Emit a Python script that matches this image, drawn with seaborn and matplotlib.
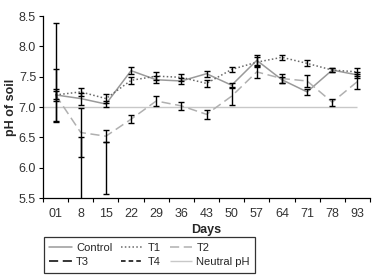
import numpy as np
import pandas as pd
import matplotlib
matplotlib.use('Agg')
import matplotlib.pyplot as plt
import seaborn as sns

sns.set_style('ticks')
plt.rcParams['font.family'] = ['Liberation Sans Narrow', 'Liberation Sans', 'DejaVu Sans']

# Soil pH data
days = ['01', '8', '15', '22', '29', '36', '43', '50', '57', '64', '71', '78', '93']
control = [7.20, 7.14, 7.05, 7.60, 7.45, 7.43, 7.55, 7.36, 7.77, 7.45, 7.25, 7.61, 7.53]
t1 = [7.20, 7.25, 7.14, 7.44, 7.51, 7.49, 7.39, 7.62, 7.74, 7.82, 7.72, 7.61, 7.58]
t2 = [7.20, 6.58, 6.52, 6.80, 7.10, 7.02, 6.88, 7.18, 7.58, 7.47, 7.43, 7.08, 7.42]
t3 = [7.57, np.nan, 6.00, np.nan, np.nan, np.nan, np.nan, np.nan, np.nan, np.nan, np.nan, np.nan, np.nan]
t4 = [np.nan, 5.40, np.nan, np.nan, np.nan, np.nan, np.nan, np.nan, np.nan, np.nan, np.nan, np.nan, np.nan]
neutral_ph = 7.0

# standard errors
control_err = [0.43, 0.10, 0.05, 0.06, 0.06, 0.05, 0.05, 0.04, 0.08, 0.05, 0.05, 0.03, 0.05]
t1_err = [0.06, 0.06, 0.07, 0.06, 0.06, 0.06, 0.06, 0.04, 0.08, 0.04, 0.05, 0.03, 0.06]
t2_err = [0.10, 0.41, 0.10, 0.07, 0.08, 0.07, 0.07, 0.15, 0.10, 0.07, 0.10, 0.06, 0.12]
t3_err = [0.81, np.nan, 0.43, np.nan, np.nan, np.nan, np.nan, np.nan, np.nan, np.nan, np.nan, np.nan, np.nan]
t4_err = [np.nan, 1.10, np.nan, np.nan, np.nan, np.nan, np.nan, np.nan, np.nan, np.nan, np.nan, np.nan, np.nan]

pos = np.arange(len(days))
df = pd.DataFrame({'pos': pos, 'Control': control, 'T1': t1, 'T2': t2})

fig = plt.figure(figsize=(3.81, 2.77), dpi=100)
ax = fig.add_axes([0.113, 0.285, 0.858, 0.657])

# neutral line first (underneath)
ax.hlines(neutral_ph, -0.5, pos[-1], color='#c8c8c8', lw=1.0, label='Neutral pH', zorder=1)

styles = {
    'Control': dict(color='#9a9a9a', linestyle='-'),
    'T1': dict(color='#6a6a6a', linestyle=(0, (1, 1.5))),
    'T2': dict(color='#b0b0b0', linestyle=(0, (6, 3))),
}
errs = {'Control': control_err, 'T1': t1_err, 'T2': t2_err}
for name, st in styles.items():
    sns.lineplot(data=df, x='pos', y=name, ax=ax, lw=1.1, label=name, zorder=2, **st)
    ax.errorbar(pos, df[name], yerr=errs[name], fmt='none', ecolor='black',
                elinewidth=1.0, capsize=2.5, capthick=1.0, zorder=3)

ax.plot(pos, t3, color='black', lw=1.1, linestyle=(0, (6, 3)), label='T3')
ax.errorbar(pos, t3, yerr=t3_err, fmt='none', ecolor='black', elinewidth=1.0,
            capsize=2.5, capthick=1.0, zorder=3)
ax.plot(pos, t4, color='black', lw=1.1, linestyle=(0, (3, 2)), label='T4')
ax.errorbar(pos, t4, yerr=t4_err, fmt='none', ecolor='black', elinewidth=1.0,
            capsize=2.5, capthick=1.0, zorder=3)

ax.set_xlim(-0.5, len(days) - 0.5)
ax.set_ylim(5.5, 8.5)
yt = np.arange(5.5, 8.51, 0.5)
ax.set_yticks(yt)
ax.set_yticklabels([f'{v:.1f}' for v in yt])
ax.set_xticks(pos)
ax.set_xticklabels(days)
ax.set_xticks(np.arange(-0.5, len(days), 1), minor=True)
ax.tick_params(axis='x', which='major', length=0, pad=7, labelsize=9)
ax.tick_params(axis='x', which='minor', length=3, width=0.8)
ax.tick_params(axis='y', length=3, width=0.8, labelsize=9, pad=2)
ax.tick_params(axis='both', which='both', color='black', labelcolor='#333333')
for s in ['top', 'right']:
    ax.spines[s].set_visible(False)
for s in ['left', 'bottom']:
    ax.spines[s].set_linewidth(0.9)
    ax.spines[s].set_color('black')

ax.set_xlabel('Days', fontsize=9, fontweight='bold', labelpad=3)
ax.set_ylabel('pH of soil', fontsize=9, fontweight='bold')
ax.yaxis.set_label_coords(-0.08, 0.5)

h, l = ax.get_legend_handles_labels()
hd = dict(zip(l, h))
order = ['Control', 'T3', 'T1', 'T4', 'T2', 'Neutral pH']
leg = ax.legend([hd[k] for k in order], order, ncol=3, loc='upper left',
                bbox_to_anchor=(0.115, 1 - 237 / 277), bbox_transform=fig.transFigure,
                fontsize=8, frameon=True, fancybox=False,
                edgecolor='black', handlelength=2.0, handletextpad=0.4,
                columnspacing=0.8, borderpad=0.5, labelspacing=0.4,
                borderaxespad=0)
leg.get_frame().set_linewidth(0.9)

fig.savefig('out.png', dpi=100)
